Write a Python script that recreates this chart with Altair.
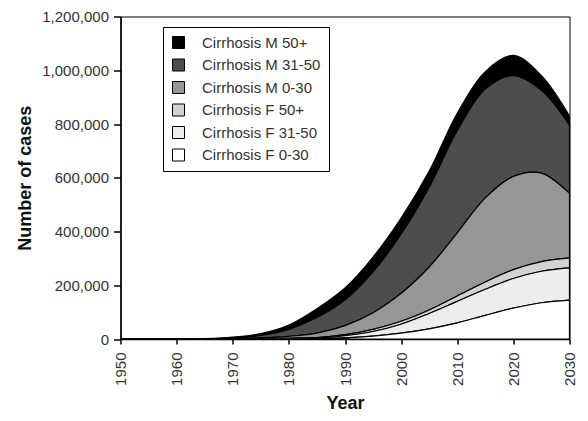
import altair as alt
import pandas as pd

years = [1950, 1955, 1960, 1965, 1970, 1975, 1980, 1985, 1990, 1995,
         2000, 2005, 2010, 2015, 2020, 2025, 2030]

series = ["Cirrhosis M 50+", "Cirrhosis M 31-50", "Cirrhosis M 0-30",
          "Cirrhosis F 50+", "Cirrhosis F 31-50", "Cirrhosis F 0-30"]

# cases per group (thousands)
m_50p = [0, 0, 0, 0.6, 3, 7, 16, 33, 45, 55, 60, 60, 65, 65, 75, 55, 35]
m_31_50 = [0, 0, 0, 0.4, 3, 9, 26, 58, 95, 152, 220, 297, 380, 405, 375, 308, 253]
m_0_30 = [0, 0, 0, 0.2, 0.8, 3, 7.5, 17, 34, 62, 104, 160, 235, 313, 347, 329, 240]
f_50p = [0, 0, 0, 0, 0.1, 0.3, 0.7, 1, 4, 8, 11, 13, 20, 27, 33, 36, 37]
f_31_50 = [0, 0, 0, 0, 0.1, 0.5, 1.2, 2.5, 8, 17, 33, 57, 80, 97, 110, 117, 120]
f_0_30 = [0, 0, 0, 0, 0, 0.2, 0.6, 1.5, 4, 11, 22, 38, 60, 88, 115, 135, 145]

colors = ["#000000", "#4d4d4d", "#969696", "#d2d2d2", "#ededed", "#ffffff"]
x_ticks = [1950, 1960, 1970, 1980, 1990, 2000, 2010, 2020, 2030]
y_ticks = [0, 200000, 400000, 600000, 800000, 1000000, 1200000]

values = [m_50p, m_31_50, m_0_30, f_50p, f_31_50, f_0_30]
rows = []
for i, (name, vals) in enumerate(zip(series, values)):
    for yr, v in zip(years, vals):
        rows.append({"year": yr, "cases": v * 1000, "series": name, "rank": 6 - i})
df = pd.DataFrame(rows)

FONT = "Liberation Sans"
W = 449
H = 322.5

chart = alt.Chart(df).mark_area(
    interpolate="catmull-rom", stroke="black", strokeWidth=1.2
).encode(
    x=alt.X("year:Q",
            scale=alt.Scale(domain=[1950, 2030], nice=False, zero=False),
            axis=alt.Axis(values=x_ticks, format="d", labelAngle=-90,
                          title="Year", titleX=W / 2, titleY=64,
                          titleBaseline="middle", titleAlign="center",
                          tickSize=5, labelPadding=8)),
    y=alt.Y("cases:Q", stack="zero",
            scale=alt.Scale(domain=[0, 1200000], nice=False),
            axis=alt.Axis(values=y_ticks, format=",d", title="Number of cases",
                          titleX=-95, titleY=H / 2, titleAngle=-90,
                          titleBaseline="middle", titleAlign="center",
                          tickSize=7, labelPadding=5)),
    color=alt.Color("series:N",
                    scale=alt.Scale(domain=series, range=colors),
                    legend=alt.Legend(orient="none", legendX=42.5, legendY=10.5,
                                      title=None, strokeColor="black",
                                      fillColor="white", padding=8,
                                      symbolType="square", symbolSize=144,
                                      symbolStrokeColor="black",
                                      symbolStrokeWidth=1,
                                      labelFontSize=15, labelFont=FONT,
                                      labelColor="#333333", labelOffset=16,
                                      rowPadding=5.5)),
    order=alt.Order("rank:Q", sort="ascending"),
).properties(
    width=W, height=H,
    autosize=alt.AutoSizeParams(type="none"),
    padding={"left": 112.5, "top": 8.5, "right": 10, "bottom": 74},
).configure_view(
    stroke="black", strokeWidth=1
).configure_axis(
    grid=False, domainColor="black", domainWidth=1.5,
    tickColor="black", tickWidth=1.5,
    labelFont=FONT, labelFontSize=15, labelColor="#333333",
    titleFont=FONT, titleFontSize=18, titleFontWeight="bold", titleColor="#111111",
)

chart.save("out.html", embed_options={"renderer": "svg", "actions": False})
